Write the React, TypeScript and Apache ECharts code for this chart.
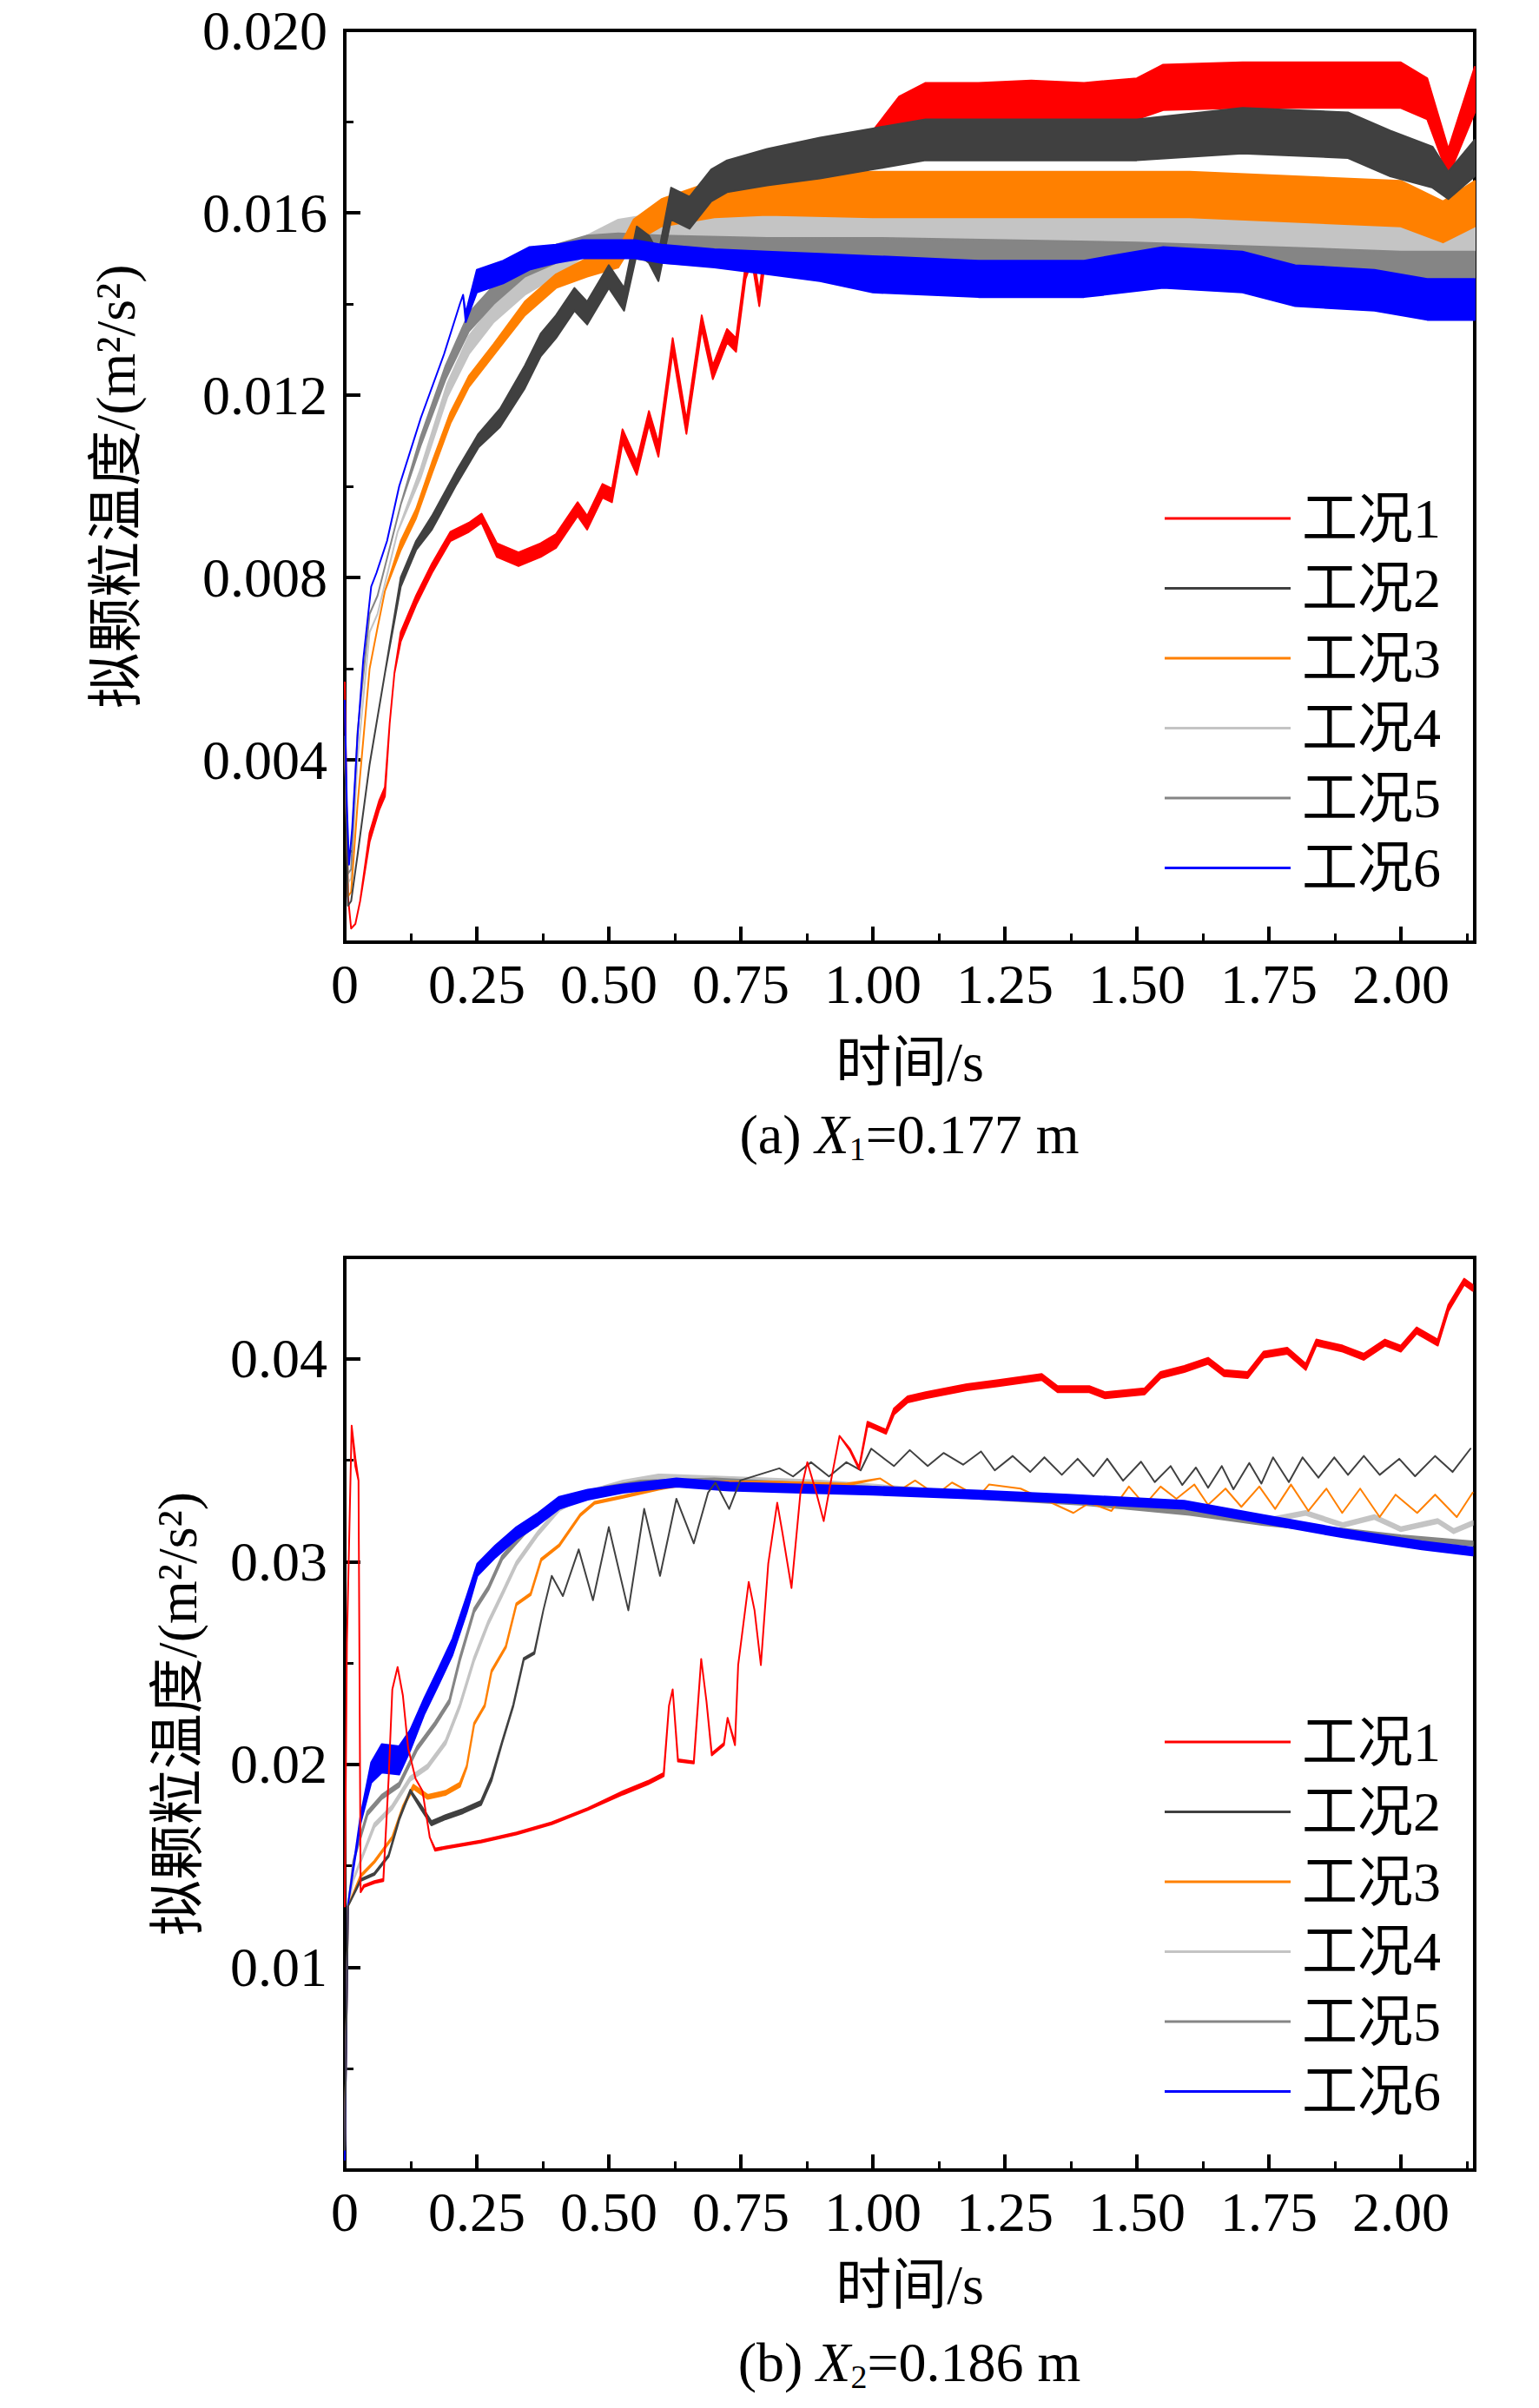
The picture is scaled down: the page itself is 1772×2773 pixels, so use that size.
import React, { useEffect, useRef } from "react";
import * as echarts from "echarts";

// ---------- data: [time (s), mean value (m^2/s^2), half band width] ----------
const caseNames = ["工况1", "工况2", "工况3", "工况4", "工况5", "工况6"];
const caseColors = ["#ff0000", "#404040", "#ff8000", "#c4c4c4", "#858585", "#0000ff"];

const xMax = 2.14;
const yMaxA = 0.02;
const yMaxB = 0.045;

// Panel (a) X1 = 0.177 m
const a1: number[][] = [
  [0, 0.0057, 0], [0.006, 0.001, 0], [0.012, 0.0003, 0], [0.02, 0.0004, 0], [0.029, 0.0009, 0],
  [0.047, 0.0023, 0.0001], [0.065, 0.003, 0.0001], [0.076, 0.0033, 0.0001], [0.085, 0.0048, 0],
  [0.094, 0.0059, 0], [0.106, 0.0067, 0.0001], [0.135, 0.0075, 0.0001], [0.165, 0.0082, 0.0001],
  [0.2, 0.0089, 0.0001], [0.235, 0.0091, 0.0001], [0.259, 0.0093, 0.0001], [0.288, 0.0086, 0.00015],
  [0.329, 0.0084, 0.00015], [0.371, 0.0086, 0.00015], [0.4, 0.0088, 0.00015], [0.441, 0.0095, 0.00015],
  [0.459, 0.0092, 0.00015], [0.488, 0.0099, 0.00015], [0.506, 0.0098, 0.00015], [0.526, 0.0111, 0.00015],
  [0.553, 0.0104, 0.00015], [0.576, 0.0115, 0.00015], [0.594, 0.0108, 0.00015], [0.621, 0.0131, 0.00015],
  [0.647, 0.0113, 0.00015], [0.676, 0.0136, 0.00015], [0.697, 0.0125, 0.00015], [0.724, 0.0133, 0.00015],
  [0.741, 0.0131, 0.00015], [0.759, 0.0147, 0.00015], [0.771, 0.0151, 0.00015], [0.785, 0.0141, 0.00015],
  [0.8, 0.0155, 0.0002], [0.85, 0.0158, 0.0002], [0.9, 0.0165, 0.0003], [0.95, 0.017, 0.0003],
  [1.0, 0.0174, 0.0004], [1.05, 0.0181, 0.00045], [1.1, 0.0184, 0.00045], [1.2, 0.0184, 0.00045],
  [1.3, 0.01845, 0.00045], [1.4, 0.0184, 0.00045], [1.5, 0.0185, 0.00045], [1.55, 0.01875, 0.0005],
  [1.7, 0.0188, 0.0005], [1.85, 0.0188, 0.0005], [2.0, 0.0188, 0.0005], [2.05, 0.0185, 0.00045],
  [2.09, 0.0171, 0.0003], [2.14, 0.0187, 0.0005],
];
const a2: number[][] = [
  [0, 0.0045, 0], [0.006, 0.0008, 0], [0.012, 0.0009, 0], [0.024, 0.0019, 0], [0.047, 0.0039, 0],
  [0.076, 0.0059, 0], [0.106, 0.0079, 0.0001], [0.135, 0.0087, 0.0001], [0.165, 0.0092, 0.00015],
  [0.212, 0.0102, 0.00015], [0.253, 0.011, 0.00015], [0.294, 0.0115, 0.0002], [0.341, 0.0124, 0.00025],
  [0.371, 0.0131, 0.00025], [0.4, 0.0135, 0.00025], [0.435, 0.0141, 0.00025], [0.459, 0.0138, 0.00025],
  [0.5, 0.0146, 0.00025], [0.529, 0.0141, 0.00025], [0.553, 0.0154, 0.0003], [0.576, 0.0152, 0.0003],
  [0.594, 0.0148, 0.0003], [0.618, 0.0162, 0.00035], [0.653, 0.016, 0.00035], [0.694, 0.0166, 0.00035],
  [0.724, 0.0168, 0.00035], [0.8, 0.017, 0.0004], [0.9, 0.0172, 0.00045], [1.0, 0.0174, 0.00045],
  [1.1, 0.0176, 0.00045], [1.3, 0.0176, 0.00045], [1.5, 0.0176, 0.00045], [1.7, 0.0178, 0.0005],
  [1.9, 0.0177, 0.0005], [1.98, 0.0173, 0.0005], [2.06, 0.017, 0.00045], [2.09, 0.0166, 0.0003],
  [2.14, 0.0172, 0.0004],
];
const a3: number[][] = [
  [0, 0.0045, 0], [0.006, 0.001, 0], [0.012, 0.0011, 0], [0.024, 0.003, 0], [0.047, 0.006, 0],
  [0.062, 0.0069, 0], [0.076, 0.0077, 0], [0.106, 0.0087, 0.0001], [0.135, 0.0094, 0.0001],
  [0.165, 0.0104, 0.00012], [0.2, 0.0115, 0.00012], [0.235, 0.0123, 0.00012], [0.282, 0.013, 0.00012],
  [0.341, 0.0139, 0.00015], [0.4, 0.0145, 0.00015], [0.459, 0.0148, 0.0002], [0.518, 0.015, 0.0002],
  [0.547, 0.0156, 0.00025], [0.6, 0.016, 0.0003], [0.7, 0.0163, 0.0004], [0.8, 0.0164, 0.00045],
  [1.0, 0.0164, 0.0005], [1.2, 0.0164, 0.0005], [1.4, 0.0164, 0.0005], [1.6, 0.0164, 0.0005],
  [1.8, 0.0163, 0.0005], [2.0, 0.0162, 0.0005], [2.08, 0.0158, 0.00045], [2.14, 0.0162, 0.0005],
];
const a4: number[][] = [
  [0, 0.0045, 0], [0.006, 0.0013, 0], [0.012, 0.0014, 0], [0.024, 0.004, 0], [0.047, 0.0068, 0],
  [0.062, 0.0072, 0], [0.1, 0.009, 0], [0.144, 0.0103, 0.0001], [0.194, 0.0121, 0.00015],
  [0.235, 0.0131, 0.0002], [0.282, 0.0138, 0.0002], [0.341, 0.0144, 0.0002], [0.4, 0.0148, 0.0002],
  [0.459, 0.0153, 0.0002], [0.518, 0.0156, 0.00025], [0.6, 0.0157, 0.0003], [0.8, 0.01565, 0.00035],
  [1.0, 0.01565, 0.00035], [1.5, 0.0156, 0.00035], [2.0, 0.0154, 0.00035], [2.14, 0.0154, 0.00035],
];
const a5: number[][] = [
  [0, 0.0045, 0], [0.006, 0.0015, 0], [0.012, 0.0016, 0], [0.024, 0.0046, 0], [0.047, 0.0072, 0],
  [0.062, 0.0076, 0], [0.106, 0.0096, 0], [0.144, 0.011, 0.0001], [0.191, 0.0125, 0.00015],
  [0.235, 0.0136, 0.0002], [0.282, 0.0142, 0.0002], [0.341, 0.0148, 0.0002], [0.4, 0.0151, 0.0002],
  [0.459, 0.0153, 0.0002], [0.518, 0.0153, 0.00025], [0.6, 0.0152, 0.0003], [0.8, 0.0151, 0.00035],
  [1.0, 0.0151, 0.00035], [1.5, 0.015, 0.00035], [2.0, 0.0148, 0.00035], [2.14, 0.0148, 0.00035],
];
const a6: number[][] = [
  [0, 0.0053, 0], [0.004, 0.003, 0], [0.008, 0.0017, 0], [0.014, 0.0025, 0], [0.024, 0.0045, 0],
  [0.035, 0.0062, 0], [0.05, 0.0078, 0], [0.06, 0.0081, 0], [0.08, 0.0088, 0], [0.103, 0.01, 0],
  [0.144, 0.0115, 0], [0.188, 0.0129, 0], [0.218, 0.014, 0], [0.224, 0.0142, 0], [0.229, 0.0137, 0.0001],
  [0.25, 0.0145, 0.00025], [0.3, 0.0147, 0.00025], [0.35, 0.015, 0.00025], [0.4, 0.0151, 0.0002],
  [0.45, 0.0152, 0.0002], [0.55, 0.0152, 0.0002], [0.6, 0.0151, 0.0002], [0.7, 0.015, 0.0002],
  [0.8, 0.0149, 0.00025], [0.9, 0.0148, 0.0003], [1.0, 0.01465, 0.0004], [1.2, 0.01455, 0.0004],
  [1.4, 0.01455, 0.0004], [1.55, 0.0148, 0.00045], [1.7, 0.0147, 0.00045], [1.8, 0.0144, 0.00045],
  [1.95, 0.0143, 0.00045], [2.05, 0.0141, 0.00045], [2.14, 0.0141, 0.00045],
];

// Panel (b) X2 = 0.186 m
const b1: number[][] = [
  [0, 0.013, 0], [0.004, 0.026, 0], [0.013, 0.0367, 0], [0.02, 0.0349, 0.0002], [0.026, 0.034, 0],
  [0.03, 0.0137, 0], [0.036, 0.014, 0.00005], [0.056, 0.0142, 0.00005], [0.073, 0.0143, 0.00005],
  [0.083, 0.0193, 0], [0.09, 0.0237, 0], [0.1, 0.0248, 0], [0.11, 0.0234, 0], [0.12, 0.0208, 0],
  [0.134, 0.0193, 0], [0.147, 0.0187, 0], [0.161, 0.0164, 0], [0.171, 0.0158, 0.00005],
  [0.191, 0.0159, 0.00005], [0.258, 0.0162, 0.00005], [0.325, 0.0166, 0.00005], [0.392, 0.0171, 0.00005],
  [0.46, 0.0178, 0.00005], [0.527, 0.0186, 0.00008], [0.574, 0.0191, 0.00008], [0.604, 0.0195, 0.00008],
  [0.614, 0.0229, 0], [0.621, 0.0237, 0], [0.631, 0.0202, 0.00005], [0.661, 0.0201, 0.00005],
  [0.675, 0.0252, 0], [0.685, 0.0231, 0], [0.695, 0.0205, 0.00005], [0.718, 0.021, 0.00005],
  [0.725, 0.0223, 0], [0.739, 0.021, 0.00005], [0.745, 0.0249, 0], [0.765, 0.029, 0], [0.776, 0.0276, 0],
  [0.788, 0.0249, 0], [0.802, 0.0299, 0], [0.819, 0.0329, 0], [0.829, 0.0314, 0], [0.846, 0.0287, 0],
  [0.863, 0.0334, 0], [0.876, 0.0349, 0], [0.893, 0.0334, 0], [0.907, 0.032, 0],
  [0.923, 0.0343, 0], [0.937, 0.0362, 0], [0.957, 0.0355, 0.00005], [0.974, 0.0346, 0.00005],
  [0.99, 0.0368, 0.0001], [1.025, 0.0364, 0.0001], [1.04, 0.0374, 0.00015], [1.066, 0.038, 0.00015],
  [1.1, 0.0382, 0.00015], [1.178, 0.0386, 0.00015], [1.238, 0.0388, 0.00015], [1.32, 0.0391, 0.00015],
  [1.35, 0.0385, 0.00015], [1.41, 0.0385, 0.00015], [1.44, 0.0382, 0.00015], [1.515, 0.0384, 0.00015],
  [1.545, 0.0392, 0.00015], [1.59, 0.0395, 0.00015], [1.635, 0.0399, 0.00015], [1.665, 0.0393, 0.00015],
  [1.71, 0.0392, 0.00015], [1.74, 0.0402, 0.00015], [1.785, 0.0404, 0.00015], [1.82, 0.0396, 0.00015],
  [1.84, 0.0408, 0.00015], [1.89, 0.0405, 0.00015], [1.93, 0.0401, 0.00015], [1.97, 0.0408, 0.00015],
  [2.0, 0.0405, 0.00015], [2.03, 0.0414, 0.00015], [2.07, 0.0408, 0.00015], [2.09, 0.0425, 0.00015],
  [2.12, 0.0438, 0.00015], [2.136, 0.0435, 0.00015],
];
const b2: number[][] = [
  [0, 0.001, 0], [0.006, 0.013, 0], [0.03, 0.0143, 0.00005], [0.056, 0.0146, 0.00005], [0.083, 0.0155, 0.00005],
  [0.103, 0.0173, 0.00005], [0.124, 0.0187, 0.00005], [0.144, 0.0179, 0.0001], [0.164, 0.0171, 0.0001],
  [0.191, 0.0174, 0.0001], [0.224, 0.0177, 0.0001], [0.258, 0.0181, 0.0001], [0.278, 0.0193, 0.0001],
  [0.298, 0.0211, 0.00005], [0.319, 0.0229, 0.00005], [0.339, 0.0252, 0.00005], [0.359, 0.0255, 0.00005],
  [0.376, 0.0276, 0], [0.392, 0.0293, 0], [0.413, 0.0283, 0], [0.443, 0.0306, 0], [0.47, 0.0281, 0],
  [0.5, 0.0317, 0], [0.537, 0.0276, 0], [0.567, 0.0326, 0], [0.597, 0.0293, 0], [0.628, 0.0331, 0],
  [0.661, 0.0309, 0], [0.688, 0.0334, 0], [0.702, 0.0339, 0], [0.728, 0.0326, 0], [0.749, 0.034, 0],
  [0.823, 0.0346, 0], [0.849, 0.0342, 0], [0.883, 0.0349, 0], [0.917, 0.0342, 0], [0.95, 0.0349, 0],
  [0.977, 0.0345, 0], [0.997, 0.03557, 0], [1.04, 0.03471, 0], [1.07, 0.0355, 0], [1.104, 0.03471, 0],
  [1.134, 0.03536, 0], [1.171, 0.03478, 0], [1.205, 0.03543, 0], [1.231, 0.0345, 0], [1.265, 0.03521, 0],
  [1.298, 0.03442, 0], [1.325, 0.03514, 0], [1.358, 0.03428, 0], [1.388, 0.03507, 0], [1.418, 0.03421, 0],
  [1.444, 0.03507, 0], [1.474, 0.03399, 0], [1.508, 0.03493, 0], [1.534, 0.03392, 0], [1.564, 0.03471, 0],
  [1.586, 0.03378, 0], [1.612, 0.03464, 0], [1.635, 0.03364, 0], [1.661, 0.03471, 0], [1.683, 0.03357, 0],
  [1.713, 0.03486, 0], [1.736, 0.03385, 0], [1.758, 0.03514, 0], [1.788, 0.03392, 0], [1.814, 0.03514, 0],
  [1.844, 0.03414, 0], [1.874, 0.03514, 0], [1.9, 0.03428, 0], [1.93, 0.03521, 0], [1.96, 0.03428, 0],
  [1.997, 0.03507, 0], [2.027, 0.03421, 0], [2.065, 0.03521, 0], [2.098, 0.03442, 0], [2.132, 0.03557, 0],
];
const b3: number[][] = [
  [0, 0.001, 0], [0.006, 0.013, 0], [0.03, 0.0145, 0.00005], [0.056, 0.0152, 0.00005], [0.09, 0.0164, 0.00005],
  [0.11, 0.0179, 0.00005], [0.13, 0.0189, 0.0001], [0.157, 0.0184, 0.0001], [0.191, 0.0186, 0.0001],
  [0.218, 0.019, 0.0001], [0.231, 0.0199, 0.00005], [0.245, 0.022, 0.00005], [0.265, 0.0229, 0.00005],
  [0.278, 0.0246, 0.00005], [0.305, 0.0258, 0.00005], [0.325, 0.0279, 0.00005], [0.352, 0.0284, 0.00005],
  [0.372, 0.0301, 0.00005], [0.406, 0.0308, 0.00005], [0.446, 0.0323, 0.00005], [0.473, 0.0329, 0.00005],
  [0.527, 0.0332, 0.00005], [0.594, 0.0336, 0.00005], [0.661, 0.0339, 0.00005], [0.8, 0.0339, 0.00005],
  [0.95, 0.0338, 0.00005], [1.014, 0.0341, 0], [1.05, 0.0335, 0], [1.08, 0.034, 0], [1.12, 0.0333, 0],
  [1.15, 0.0339, 0], [1.2, 0.0332, 0], [1.22, 0.0338, 0], [1.28, 0.0336, 0], [1.38, 0.0324, 0],
  [1.41, 0.0329, 0], [1.452, 0.0325, 0], [1.485, 0.0337, 0], [1.515, 0.0328, 0], [1.545, 0.0337, 0],
  [1.575, 0.0331, 0], [1.609, 0.0338, 0], [1.635, 0.0328, 0], [1.668, 0.0336, 0], [1.698, 0.0327, 0],
  [1.732, 0.0337, 0], [1.762, 0.0326, 0], [1.792, 0.0338, 0], [1.825, 0.0325, 0], [1.859, 0.0336, 0],
  [1.889, 0.0324, 0], [1.923, 0.0336, 0], [1.96, 0.0322, 0], [1.99, 0.0333, 0], [2.031, 0.0324, 0],
  [2.065, 0.0333, 0], [2.106, 0.0322, 0], [2.136, 0.0334, 0],
];
const b4: number[][] = [
  [0, 0.001, 0], [0.006, 0.013, 0], [0.016, 0.0143, 0.00005], [0.056, 0.017, 0.0001], [0.09, 0.0179, 0.0001],
  [0.124, 0.0193, 0.0001], [0.157, 0.0199, 0.0001], [0.191, 0.0211, 0.0001], [0.218, 0.0229, 0.0001],
  [0.245, 0.0252, 0.0001], [0.272, 0.027, 0.0001], [0.298, 0.0284, 0.0001], [0.325, 0.0299, 0.0001],
  [0.366, 0.0314, 0.0001], [0.406, 0.0326, 0.0001], [0.46, 0.0334, 0.0001], [0.527, 0.0339, 0.0001],
  [0.594, 0.0342, 0.0001], [0.7, 0.0341, 0.0001], [0.8, 0.034, 0.0001], [0.9, 0.0339, 0.0001],
  [1.0, 0.0337, 0.0001], [1.2, 0.0333, 0.0001], [1.4, 0.033, 0.0001], [1.6, 0.0325, 0.0001],
  [1.74, 0.032, 0.0001], [1.82, 0.0324, 0.0001], [1.89, 0.0318, 0.0001], [1.95, 0.0322, 0.0001],
  [2.0, 0.0316, 0.0001], [2.07, 0.032, 0.0001], [2.1, 0.0315, 0.0001], [2.136, 0.0319, 0.0001],
];
const b5: number[][] = [
  [0, 0.001, 0], [0.006, 0.013, 0], [0.016, 0.0152, 0.00005], [0.043, 0.0176, 0.0001], [0.07, 0.0184, 0.0001],
  [0.103, 0.019, 0.0001], [0.137, 0.0208, 0.0001], [0.171, 0.022, 0.0001], [0.198, 0.0231, 0.0001],
  [0.218, 0.0252, 0.0001], [0.245, 0.0276, 0.0001], [0.272, 0.0287, 0.0001], [0.298, 0.0302, 0.0001],
  [0.339, 0.0314, 0.0001], [0.379, 0.0323, 0.0001], [0.426, 0.033, 0.0001], [0.493, 0.0336, 0.0001],
  [0.56, 0.0339, 0.0001], [0.7, 0.034, 0.0001], [0.85, 0.0338, 0.0001], [1.0, 0.0336, 0.0001],
  [1.2, 0.0332, 0.0001], [1.4, 0.0329, 0.0001], [1.6, 0.0324, 0.0001], [1.74, 0.0319, 0.0001],
  [1.9, 0.0315, 0.0001], [2.0, 0.0312, 0.0001], [2.136, 0.0309, 0.0001],
];
const b6: number[][] = [
  [0, 0.0005, 0], [0.006, 0.0131, 0], [0.03, 0.0173, 0.0002], [0.05, 0.0196, 0.0005], [0.07, 0.0203, 0.0007],
  [0.103, 0.0202, 0.0007], [0.124, 0.0212, 0.0005], [0.151, 0.0229, 0.0004], [0.177, 0.0243, 0.0004],
  [0.204, 0.0258, 0.0004], [0.231, 0.0279, 0.0004], [0.251, 0.0296, 0.0003], [0.285, 0.0305, 0.0003],
  [0.325, 0.0314, 0.0003], [0.366, 0.0321, 0.0003], [0.406, 0.0329, 0.0003], [0.46, 0.0333, 0.00025],
  [0.527, 0.0336, 0.0002], [0.628, 0.0339, 0.0002], [0.728, 0.0337, 0.0002], [0.863, 0.0336, 0.0002],
  [1.0, 0.0335, 0.0002], [1.2, 0.0333, 0.0002], [1.37, 0.0331, 0.0002], [1.59, 0.0328, 0.0002],
  [1.74, 0.0321, 0.0002], [1.89, 0.0314, 0.0002], [2.04, 0.0308, 0.0002], [2.136, 0.0305, 0.0002],
];

const panelA = [a1, a2, a3, a4, a5, a6];
const panelB = [b1, b2, b3, b4, b5, b6];
// drawing order (last drawn on top)
const orderA = [0, 3, 4, 2, 1, 5];
const orderB = [3, 4, 2, 5, 1, 0];

const SERIF = "'Liberation Serif', 'Times New Roman', 'Noto Sans CJK SC', serif";
const FS = 64;

function bandSeries(data: number[][], idx: number, axisIdx: number) {
  const color = caseColors[idx];
  return {
    type: "custom",
    name: caseNames[idx],
    xAxisIndex: axisIdx,
    yAxisIndex: axisIdx,
    data,
    encode: { x: 0, y: 1 },
    itemStyle: { color },
    silent: true,
    renderItem: (params: any, api: any) => {
      if (params.dataIndex !== 0) return null;
      const top: number[][] = [];
      const bottom: number[][] = [];
      for (const d of data) {
        top.push(api.coord([d[0], d[1] + d[2]]));
        bottom.push(api.coord([d[0], d[1] - d[2]]));
      }
      bottom.reverse();
      return {
        type: "polygon",
        shape: { points: top.concat(bottom) },
        style: { fill: color, stroke: color, lineWidth: 2, lineJoin: "round" },
      };
    },
  };
}

function majorX(grid: number, nameGap: number) {
  return {
    gridIndex: grid,
    type: "value",
    position: "bottom",
    min: 0,
    max: xMax,
    interval: 0.25,
    axisLine: { show: true, lineStyle: { color: "#000", width: 4 } },
    axisTick: { show: true, inside: true, length: 18, lineStyle: { color: "#000", width: 4 } },
    axisLabel: {
      show: true,
      showMaxLabel: false,
      margin: 16,
      color: "#000",
      fontFamily: SERIF,
      fontSize: FS,
      formatter: (v: number) => (v === 0 ? "0" : v.toFixed(2)),
    },
    splitLine: { show: false },
    name: "时间/s",
    nameLocation: "middle",
    nameGap,
    nameTextStyle: { color: "#000", fontFamily: SERIF, fontSize: FS },
  };
}
function minorX(grid: number) {
  return {
    gridIndex: grid,
    type: "value",
    position: "bottom",
    min: 0,
    max: xMax,
    interval: 0.125,
    axisLine: { show: false },
    axisTick: { show: true, inside: true, length: 10, lineStyle: { color: "#000", width: 3 } },
    axisLabel: { show: false },
    splitLine: { show: false },
  };
}
function majorY(grid: number, max: number, interval: number, digits: number, nameGap: number) {
  return {
    gridIndex: grid,
    type: "value",
    position: "left",
    min: 0,
    max,
    interval,
    axisLine: { show: true, lineStyle: { color: "#000", width: 4 } },
    axisTick: { show: true, inside: true, length: 18, lineStyle: { color: "#000", width: 4 } },
    axisLabel: {
      show: true,
      showMinLabel: false,
      showMaxLabel: grid === 0,
      margin: 20,
      color: "#000",
      fontFamily: SERIF,
      fontSize: FS,
      formatter: (v: number) => v.toFixed(digits),
    },
    splitLine: { show: false },
    name: "拟颗粒温度/(m²/s²)",
    nameLocation: "middle",
    nameRotate: 90,
    nameGap,
    nameTextStyle: { color: "#000", fontFamily: SERIF, fontSize: FS },
  };
}
function minorY(grid: number, max: number, interval: number) {
  return {
    gridIndex: grid,
    type: "value",
    position: "left",
    min: 0,
    max,
    interval,
    axisLine: { show: false },
    axisTick: { show: true, inside: true, length: 10, lineStyle: { color: "#000", width: 3 } },
    axisLabel: { show: false },
    splitLine: { show: false },
  };
}

function legendFor(top: number) {
  return {
    data: caseNames,
    orient: "vertical",
    left: 1336,
    top,
    icon: "rect",
    itemWidth: 145,
    itemHeight: 3,
    itemGap: 16.5,
    selectedMode: false,
    textStyle: {
      color: "#000",
      fontFamily: SERIF,
      fontSize: FS,
      lineHeight: 64,
      padding: [0, 0, 0, 8],
    },
  };
}

function caption(label: string, sub: string, rest: string, y: number) {
  return {
    type: "text",
    x: 1047,
    y,
    style: {
      text: `${label} {i|X}{s|${sub}}${rest}`,
      align: "center",
      verticalAlign: "middle",
      fill: "#000",
      fontFamily: SERIF,
      fontSize: FS,
      lineHeight: 72,
      rich: {
        i: { fontStyle: "italic", fontFamily: SERIF, fontSize: FS, lineHeight: 72, fill: "#000" },
        s: { fontFamily: SERIF, fontSize: 38, lineHeight: 40, verticalAlign: "bottom", fill: "#000" },
      },
    },
  };
}

function App() {
  const ref = useRef<HTMLDivElement>(null);
  useEffect(() => {
    if (!ref.current) return;
    const chart = echarts.init(ref.current, undefined, { renderer: "svg" });
    const series: any[] = [];
    orderA.forEach((i) => series.push(bandSeries(panelA[i], i, 0)));
    orderB.forEach((i) => series.push(bandSeries(panelB[i], i, 2)));
    const option: any = {
      animation: false,
      backgroundColor: "#fff",
      grid: [
        { left: 397, top: 35, width: 1301, height: 1050, show: true, borderColor: "#000", borderWidth: 4, backgroundColor: "transparent" },
        { left: 397, top: 1448, width: 1301, height: 1051, show: true, borderColor: "#000", borderWidth: 4, backgroundColor: "transparent" },
      ],
      xAxis: [majorX(0, 106), minorX(0), majorX(1, 100), minorX(1)],
      yAxis: [
        majorY(0, yMaxA, 0.004, 3, 232),
        minorY(0, yMaxA, 0.002),
        majorY(1, yMaxB, 0.01, 2, 161),
        minorY(1, yMaxB, 0.005),
      ],
      legend: [legendFor(560), legendFor(1969)],
      graphic: [
        caption("(a)", "1", "=0.177 m", 1306),
        caption("(b)", "2", "=0.186 m", 2720),
      ],
      series,
    };
    chart.setOption(option);
    return () => chart.dispose();
  }, []);
  return (
    <div
      ref={ref}
      style={{ position: "absolute", left: 0, top: 0, width: 1772, height: 2773, background: "#fff" }}
    />
  );
}

export default App;
